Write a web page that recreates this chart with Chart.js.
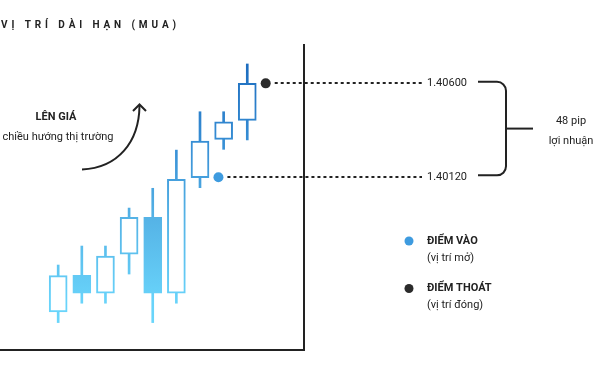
<!DOCTYPE html>
<html>
<head>
<meta charset="utf-8">
<script src="https://cdn.jsdelivr.net/npm/chart.js@4.4.1/dist/chart.umd.min.js"></script>
<style>
  html, body { margin: 0; padding: 0; background: #fff; }
  #wrap { width: 600px; height: 370px; }
</style>
</head>
<body>
<div id="wrap"><canvas id="myChart" width="600" height="370"></canvas></div>
<script>
// Candle data (price), one entry per candle
const candles = [1, 2, 3, 4, 5, 6, 7, 8, 9];
const opens  = [1.39432, 1.39620, 1.39528, 1.39727, 1.39916, 1.39528, 1.40118, 1.40314, 1.40411];
const closes = [1.39618, 1.39528, 1.39718, 1.39916, 1.39528, 1.40110, 1.40305, 1.40404, 1.40600];
const highs  = [1.39672, 1.39769, 1.39769, 1.39963, 1.40064, 1.40259, 1.40455, 1.40455, 1.40699];
const lows   = [1.39378, 1.39477, 1.39477, 1.39626, 1.39378, 1.39477, 1.40067, 1.40263, 1.40311];

// Entry / exit points
const entryX = 7.78;
const entryPrice = 1.40120;
const exitX = 9.78;
const exitPrice = 1.40600;

// Texts
const titleText = 'VỊ TRÍ DÀI HẠN (MUA)';
const trendTitle = 'LÊN GIÁ';
const trendSub = 'chiều hướng thị trường';
const profitUnit = 'pip';
const profitText = 'lợi nhuận';
const entryLabel = ['ĐIỂM VÀO', '(vị trí mở)'];
const exitLabel = ['ĐIỂM THOÁT', '(vị trí đóng)'];

const INK = '#222222';
const ENTRY_COLOR = '#3e9bdf';
const EXIT_COLOR = '#2b2b2b';
const FONT = 'Roboto, "Noto Sans", sans-serif';

let gradCache = null;
function candleGradient(ctx) {
    const chart = ctx.chart;
    const area = chart.chartArea;
    if (!area) return '#66d3fb';
    if (gradCache && gradCache.top === area.top && gradCache.bottom === area.bottom) return gradCache.g;
    const g = chart.ctx.createLinearGradient(0, area.top, 0, area.bottom);
    g.addColorStop(0, '#1a66ba');
    g.addColorStop(0.07, '#1d6dbf');
    g.addColorStop(0.35, '#3a92d7');
    g.addColorStop(0.57, '#55b3e6');
    g.addColorStop(0.84, '#68d3fa');
    g.addColorStop(1, '#6cd9fc');
    gradCache = { top: area.top, bottom: area.bottom, g };
    return g;
}

const wickData = candles.map((c, i) => ({ x: c, y: [lows[i], highs[i]] }));
const bodyData = candles.map((c, i) => ({ x: c, y: [opens[i], closes[i]] }));

function drawSpaced(ctx, text, x, y, spacing) {
    for (const ch of text) {
        ctx.fillText(ch, x, y);
        x += ctx.measureText(ch).width + spacing;
    }
}

const annotations = {
    id: 'annotations',
    beforeDatasetsDraw(chart) {
        const ctx = chart.ctx;
        const area = chart.chartArea;
        const xs = chart.scales.x;
        const ys = chart.scales.y;
        ctx.save();
        ctx.strokeStyle = INK;
        ctx.lineWidth = 2;

        // axis lines (right and bottom)
        ctx.beginPath();
        ctx.moveTo(area.right, area.top);
        ctx.lineTo(area.right, area.bottom);
        ctx.lineTo(0, area.bottom);
        ctx.stroke();

        // dotted guides from the points
        ctx.setLineDash([3, 3]);
        [[entryX, entryPrice], [exitX, exitPrice]].forEach(([px, py]) => {
            const x = xs.getPixelForValue(px);
            const y = Math.round(ys.getPixelForValue(py));
            ctx.beginPath();
            ctx.moveTo(x + 9, y);
            ctx.lineTo(422, y);
            ctx.stroke();
        });
        ctx.restore();
    },
    afterDraw(chart) {
        const ctx = chart.ctx;
        const ys = chart.scales.y;
        const yEntry = ys.getPixelForValue(entryPrice);
        const yExit = ys.getPixelForValue(exitPrice);
        ctx.save();
        ctx.fillStyle = INK;
        ctx.strokeStyle = INK;

        // title
        ctx.font = 'bold 10px ' + FONT;
        ctx.textBaseline = 'alphabetic';
        ctx.textAlign = 'left';
        drawSpaced(ctx, titleText, 1, 27.5, 3.9);

        // trend text
        ctx.textAlign = 'center';
        ctx.textBaseline = 'middle';
        ctx.font = 'bold 11px ' + FONT;
        ctx.fillText(trendTitle, 56, 117);
        ctx.font = '11px ' + FONT;
        ctx.fillText(trendSub, 58, 137);

        // trend arrow
        ctx.lineWidth = 2;
        ctx.beginPath();
        ctx.moveTo(82, 169.5);
        ctx.bezierCurveTo(118, 168, 139, 142, 139.5, 106);
        ctx.stroke();
        ctx.beginPath();
        ctx.moveTo(133, 111);
        ctx.lineTo(139.5, 104.5);
        ctx.lineTo(146, 111);
        ctx.stroke();

        // price labels
        ctx.textAlign = 'left';
        ctx.font = '11px ' + FONT;
        ctx.fillText(exitPrice.toFixed(5), 427, yExit);
        ctx.fillText(entryPrice.toFixed(5), 427, yEntry);

        // bracket
        const top = yExit - 1.5;
        const bottom = yEntry - 2;
        const mid = (top + bottom) / 2;
        const bx = 506, r = 9;
        ctx.lineWidth = 2;
        ctx.beginPath();
        ctx.moveTo(478, top);
        ctx.arcTo(bx, top, bx, top + r, r);
        ctx.lineTo(bx, bottom - r);
        ctx.arcTo(bx, bottom, bx - r, bottom, r);
        ctx.lineTo(478, bottom);
        ctx.stroke();
        ctx.beginPath();
        ctx.moveTo(bx, mid);
        ctx.lineTo(533, mid);
        ctx.stroke();

        // profit text
        const pips = Math.round((exitPrice - entryPrice) * 10000);
        ctx.textAlign = 'center';
        ctx.fillText(pips + ' ' + profitUnit, 571, mid - 7);
        ctx.fillText(profitText, 571, mid + 13);

        // legend
        [[entryLabel, ENTRY_COLOR, 241], [exitLabel, EXIT_COLOR, 288.5]].forEach(([lab, col, y]) => {
            ctx.fillStyle = col;
            ctx.beginPath();
            ctx.arc(409, y, 4.5, 0, Math.PI * 2);
            ctx.fill();
            ctx.fillStyle = INK;
            ctx.textAlign = 'left';
            ctx.font = 'bold 11px ' + FONT;
            ctx.fillText(lab[0], 427, y);
            ctx.font = '11px ' + FONT;
            ctx.fillText(lab[1], 427, y + 17);
        });
        ctx.restore();
    }
};

const ctx = document.getElementById('myChart').getContext('2d');
const myChart = new Chart(ctx, {
    type: 'bar',
    data: {
        datasets: [
            {
                type: 'scatter',
                label: 'points',
                data: [{ x: entryX, y: entryPrice }, { x: exitX, y: exitPrice }],
                pointBackgroundColor: [ENTRY_COLOR, EXIT_COLOR],
                pointBorderWidth: 0,
                pointRadius: 5,
                order: 0
            },
            {
                label: 'body',
                data: bodyData,
                backgroundColor: c => (closes[c.dataIndex] > opens[c.dataIndex] ? '#ffffff' : candleGradient(c)),
                borderColor: candleGradient,
                borderWidth: 2,
                borderSkipped: false,
                barThickness: 18,
                grouped: false,
                order: 1
            },
            {
                label: 'wick',
                data: wickData,
                backgroundColor: candleGradient,
                borderWidth: 0,
                barThickness: 2,
                grouped: false,
                order: 2
            }
        ]
    },
    options: {
        responsive: false,
        animation: false,
        devicePixelRatio: 1,
        layout: { padding: { left: 0, right: 296, top: 44, bottom: 20 } },
        plugins: {
            legend: { display: false },
            tooltip: { enabled: false }
        },
        scales: {
            x: {
                type: 'linear',
                display: false,
                offset: false,
                min: -1.25,
                max: 11.4
            },
            y: {
                display: false,
                min: 1.39238,
                max: 1.40801
            }
        }
    },
    plugins: [annotations]
});
</script>
</body>
</html>
